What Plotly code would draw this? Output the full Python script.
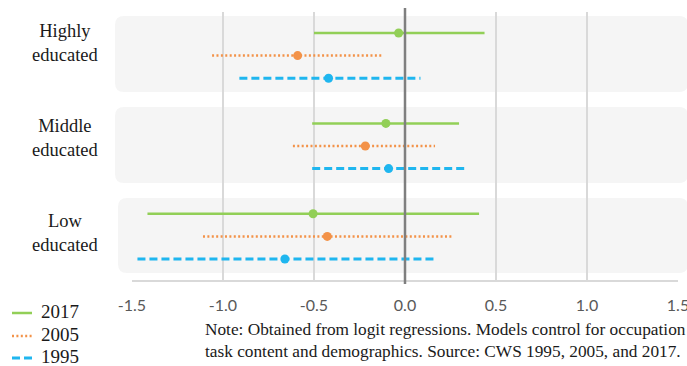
import plotly.graph_objects as go

groups = ["Highly<br>educated", "Middle<br>educated", "Low<br>educated"]
years = ["2017", "2005", "1995"]

# point estimates and confidence bounds per year, order: Highly, Middle, Low
est_2017 = [-0.035, -0.105, -0.505]
low_2017 = [-0.50, -0.51, -1.415]
high_2017 = [0.437, 0.297, 0.407]

est_2005 = [-0.59, -0.218, -0.427]
low_2005 = [-1.06, -0.616, -1.11]
high_2005 = [-0.13, 0.165, 0.255]

est_1995 = [-0.42, -0.09, -0.66]
low_1995 = [-0.91, -0.51, -1.47]
high_1995 = [0.085, 0.328, 0.16]

x_ticks = [-1.5, -1.0, -0.5, 0.0, 0.5, 1.0, 1.5]
note = ("Note: Obtained from logit regressions. Models control for occupation<br>"
        "task content and demographics. Source: CWS 1995, 2005, and 2017.")

series = [
    (years[0], est_2017, low_2017, high_2017, "#92cf57", "solid", 2.5),
    (years[1], est_2005, low_2005, high_2005, "#f39248", "2px,2.4px", 2.5),
    (years[2], est_1995, low_1995, high_1995, "#1fb6ef", "8px,4px", 3),
]

W, H = 687, 366
L, R, T, B = 132, 678, 12, 280
pw, ph = R - L, B - T

def px(x):
    return (x - L) / pw

def py(y):
    return (B - y) / ph

fig = go.Figure()

for s_i, (name, est, lo, hi, col, dash, lw) in enumerate(series):
    for g_i in range(len(groups)):
        yv = 4 * g_i + s_i
        fig.add_trace(go.Scatter(
            x=[lo[g_i], hi[g_i]], y=[yv, yv], mode="lines",
            line=dict(color=col, width=lw, dash=dash),
            showlegend=False, hoverinfo="skip"))
        fig.add_trace(go.Scatter(
            x=[est[g_i]], y=[yv], mode="markers",
            marker=dict(color=col, size=9),
            showlegend=False, name=name))

shapes = []
# rounded background bands
def band(x0, y0, x1, y1, r=9):
    X0, X1 = px(x0), px(x1)
    Y0, Y1 = py(y0), py(y1)
    rx, ry = r / pw, r / ph
    path = (f"M{X0+rx},{Y0} L{X1-rx},{Y0} Q{X1},{Y0} {X1},{Y0-ry} "
            f"L{X1},{Y1+ry} Q{X1},{Y1} {X1-rx},{Y1} L{X0+rx},{Y1} "
            f"Q{X0},{Y1} {X0},{Y1+ry} L{X0},{Y0-ry} Q{X0},{Y0} {X0+rx},{Y0} Z")
    return dict(type="path", path=path, xref="paper", yref="paper",
                fillcolor="#f5f5f5", line=dict(width=0), layer="below")

shapes.append(band(115, 16, 688, 92))
shapes.append(band(115, 107, 688, 183))
shapes.append(band(118, 198, 688, 273))

# zero line
shapes.append(dict(type="line", xref="x", yref="paper", x0=0, x1=0,
                   y0=py(284), y1=py(8), line=dict(color="#7f7f7f", width=2.5),
                   layer="above"))

annotations = []
label_y = [43, 138, 233]
for g_i, g in enumerate(groups):
    annotations.append(dict(text=g, xref="paper", yref="paper",
                            x=px(65), y=py(label_y[g_i]), showarrow=False,
                            xanchor="center", yanchor="middle", align="center",
                            font=dict(family="Liberation Serif", size=18.5, color="#1a1a1a")))

# manual legend
leg_y = [313, 336, 358]
for s_i, (name, est, lo, hi, col, dash, lw) in enumerate(series):
    shapes.append(dict(type="line", xref="paper", yref="paper",
                       x0=px(12), x1=px(32), y0=py(leg_y[s_i]), y1=py(leg_y[s_i]),
                       line=dict(color=col, width=lw, dash=dash)))
    annotations.append(dict(text=name, xref="paper", yref="paper",
                            x=px(39), y=py(leg_y[s_i] - 2), showarrow=False,
                            xanchor="left", yanchor="middle",
                            font=dict(family="Liberation Serif", size=19, color="#1a1a1a")))

annotations.append(dict(text=note, xref="paper", yref="paper",
                        x=px(203), y=py(340), showarrow=False,
                        xanchor="left", yanchor="middle", align="left",
                        font=dict(family="Liberation Serif", size=17.3, color="#1a1a1a")))

fig.update_layout(
    width=W, height=H,
    margin=dict(l=L, r=W - R, t=T, b=H - B, autoexpand=False),
    paper_bgcolor="white", plot_bgcolor="rgba(0,0,0,0)",
    shapes=shapes, annotations=annotations,
    xaxis=dict(range=[-1.5, 1.5], tickvals=x_ticks,
               ticktext=[f"{v:.1f}" for v in x_ticks],
               showgrid=True, gridcolor="#d9d9d9", gridwidth=2,
               zeroline=False, showline=True, linecolor="#d9d9d9", linewidth=2,
               ticks="outside", ticklen=10, tickcolor="rgba(0,0,0,0)",
               ticklabeloverflow="allow",
               tickfont=dict(family="Lato", size=16, color="#595959")),
    yaxis=dict(range=[(B - 33) / 22.6, (T - 33) / 22.6], visible=False,
               showgrid=False, zeroline=False),
    showlegend=False,
)

fig.write_html("out.html", config={"displayModeBar": False},
               post_script="document.body.style.margin='0';")
